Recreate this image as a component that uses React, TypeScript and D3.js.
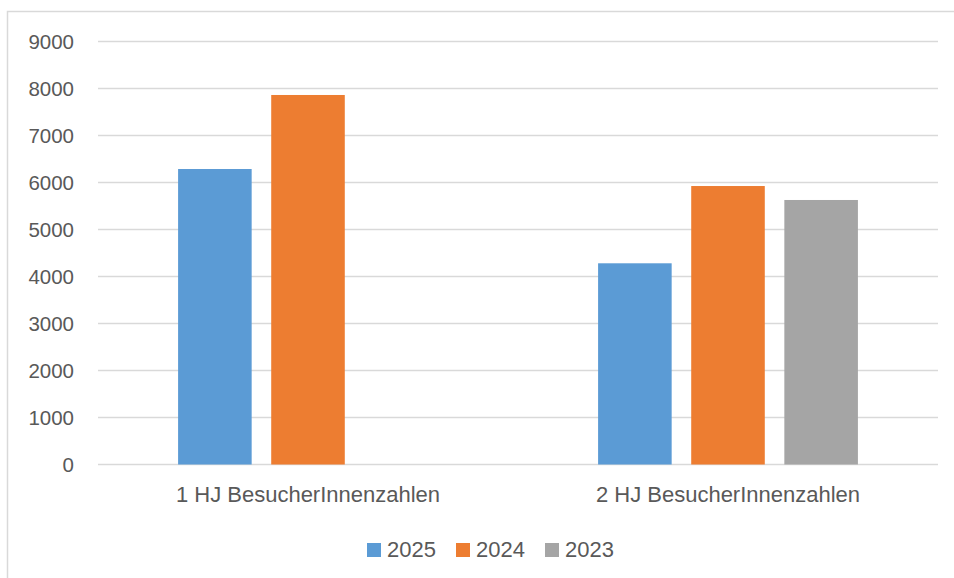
import React from "react";
import * as d3 from "d3";

const categories = ["1 HJ BesucherInnenzahlen", "2 HJ BesucherInnenzahlen"];
const seriesNames = ["2025", "2024", "2023"];
const values2025 = [6287, 4281];
const values2024 = [7862, 5925];
const values2023: (number | null)[] = [null, 5628];
const yTicks = [0, 1000, 2000, 3000, 4000, 5000, 6000, 7000, 8000, 9000];
const colors = ["#5B9BD5", "#ED7D31", "#A5A5A5"];

const W = 954;
const H = 578;
const FONT = "'Liberation Sans', Arial, sans-serif";

export default function App() {
  const series = [values2025, values2024, values2023];
  const y = d3.scaleLinear().domain([0, 9000]).range([464.5, 41.5]);
  const x0 = d3.scaleBand<string>().domain(categories).range([98, 938]).padding(0);
  const x1 = d3
    .scaleBand<string>()
    .domain(seriesNames)
    .range([0, x0.bandwidth()])
    .paddingInner(0.21)
    .paddingOuter(0.86);

  const legendX = [367, 456, 545];

  return (
    <svg
      width={W}
      height={H}
      style={{ position: "absolute", left: 0, top: 0, background: "#fff" }}
      fontFamily={FONT}
    >
      <rect x={0} y={0} width={W} height={H} fill="#fff" />
      <rect x={7.5} y={11.5} width={1000} height={700} fill="none" stroke="#D9D9D9" strokeWidth={1.5} />
      {yTicks.map((t) => (
        <g key={t}>
          <line x1={98} x2={938} y1={y(t)} y2={y(t)} stroke="#D9D9D9" strokeWidth={1.5} />
          <text x={74} y={y(t)} dy="0.36em" textAnchor="end" fontSize={20.5} fill="#595959">
            {t}
          </text>
        </g>
      ))}
      {categories.map((c, ci) => (
        <g key={c} transform={`translate(${x0(c)},0)`}>
          {series.map((s, si) => {
            const v = s[ci];
            if (v == null) return null;
            return (
              <rect
                key={si}
                x={x1(seriesNames[si])}
                y={y(v)}
                width={x1.bandwidth()}
                height={y(0) - y(v)}
                fill={colors[si]}
              />
            );
          })}
          <text
            x={x0.bandwidth() / 2}
            y={502}
            textAnchor="middle"
            fontSize={22}
            fill="#595959"
          >
            {c}
          </text>
        </g>
      ))}
      {seriesNames.map((n, i) => (
        <g key={n} transform={`translate(${legendX[i]},0)`}>
          <rect x={0} y={543} width={14} height={14} fill={colors[i]} />
          <text x={20} y={557} fontSize={22} fill="#595959">
            {n}
          </text>
        </g>
      ))}
    </svg>
  );
}
